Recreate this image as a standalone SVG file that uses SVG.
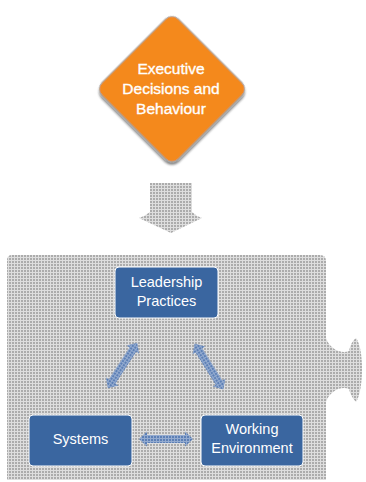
<svg xmlns="http://www.w3.org/2000/svg" width="366" height="482" viewBox="0 0 366 482">
<defs>
<pattern id="grey" width="3" height="3" patternUnits="userSpaceOnUse">
<rect width="3" height="3" fill="#dedede"/>
<rect width="2" height="2" fill="#b2b2b2"/>
<rect x="0.5" y="0.5" width="1" height="1" fill="#9a9a9a"/>
</pattern>
<pattern id="blue" width="3" height="3" patternUnits="userSpaceOnUse">
<rect width="3" height="3" fill="#94abcf"/>
<rect width="2" height="2" fill="#5d80b6"/>
</pattern>
<path id="dbl" d="M-27,0 L-19,-7.5 L-19,-4 L19,-4 L19,-7.5 L27,0 L19,7.5 L19,4 L-19,4 L-19,7.5 Z"/>
<filter id="sh" x="-20%" y="-20%" width="140%" height="140%">
<feGaussianBlur in="SourceAlpha" stdDeviation="1.2"/>
<feOffset dx="1.5" dy="1.5" result="b"/>
<feComponentTransfer><feFuncA type="linear" slope="0.5"/></feComponentTransfer>
<feMerge><feMergeNode/><feMergeNode in="SourceGraphic"/></feMerge>
</filter>
</defs>
<style>
.box{fill:#3a66a0;stroke:#ffffff;stroke-width:1}
.t{font-family:"Liberation Sans",Arial,sans-serif;fill:#ffffff;text-anchor:middle}
.bt{font-size:14.5px}
.dt{font-size:15.5px;stroke:#ffffff;stroke-width:0.35}
.arr{fill:url(#blue)}
</style>
<g id="panel">
<path d="M12,255 L320,255 Q326,255 326,261 L326,338 C330,350 342,354 349,351 C350,346 352,341 356,338 C364,348 364,390 356,402 C352,398 350,393 349,389 C342,386 330,390 326,402 L326,480 L7,480 L7,260 Q7,255 12,255 Z" fill="url(#grey)"/>
</g>
<g id="executive">
<rect x="-54" y="-54" width="108" height="108" rx="9" transform="translate(172,89) rotate(45)" fill="#f4891f" stroke="#a0a0a0" stroke-width="1" filter="url(#sh)"/>
<text class="t dt" x="171" y="74">Executive</text>
<text class="t dt" x="171" y="94">Decisions and</text>
<text class="t dt" x="171" y="114">Behaviour</text>
</g>
<g id="leadership">
<rect class="box" x="115" y="267" width="103" height="51" rx="4"/>
<text class="t bt" x="166.5" y="287">Leadership</text>
<text class="t bt" x="166.5" y="306">Practices</text>
</g>
<g id="systems">
<rect class="box" x="29" y="415" width="103" height="51" rx="4"/>
<text class="t bt" x="80.5" y="444">Systems</text>
</g>
<g id="working">
<rect class="box" x="201" y="415" width="102" height="51" rx="4"/>
<text class="t bt" x="252" y="434">Working</text>
<text class="t bt" x="252" y="453">Environment</text>
</g>
<g id="connectors">
<path d="M150,183 L192,183 L192,212 Q196,216 202,218 L171,233 L139,218 Q145,216 150,212 Z" fill="url(#grey)"/>
<use href="#dbl" class="arr" transform="translate(166,439)"/>
<use href="#dbl" class="arr" transform="translate(122.5,365.5) rotate(-57)"/>
<use href="#dbl" class="arr" transform="translate(209,366.5) rotate(58)"/>
</g>
</svg>
